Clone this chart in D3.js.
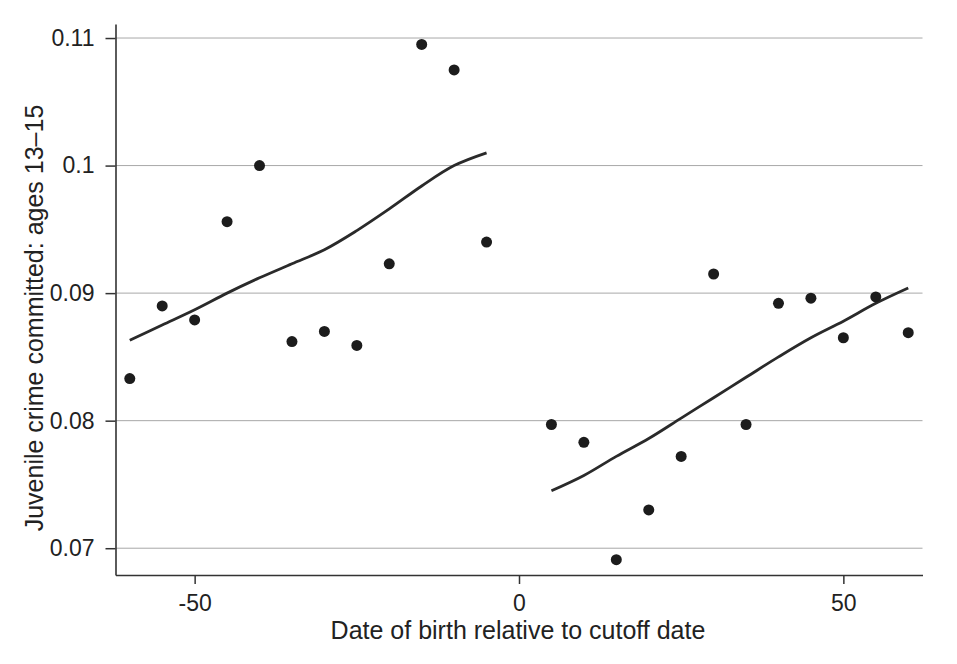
<!DOCTYPE html>
<html>
<head>
<meta charset="utf-8">
<script src="https://cdn.jsdelivr.net/npm/d3@7"></script>
<style>
  html, body { margin: 0; padding: 0; background: #fff; }
  svg { display: block; font-family: "Liberation Sans", Arial, Helvetica, sans-serif; }
</style>
</head>
<body>
<svg id="chart" width="957" height="664"></svg>
<script>
// ---- data ----
const birthDates = [-60, -55, -50, -45, -40, -35, -30, -25, -20, -15, -10, -5,
                    5, 10, 15, 20, 25, 30, 35, 40, 45, 50, 55, 60];
const crimeRates = [0.0833, 0.0890, 0.0879, 0.0956, 0.1000, 0.0862, 0.0870, 0.0859, 0.0923, 0.1095, 0.1075, 0.0940,
                    0.0797, 0.0783, 0.0691, 0.0730, 0.0772, 0.0915, 0.0797, 0.0892, 0.0896, 0.0865, 0.0897, 0.0869];
const leftFitX = [-60, -55, -50, -45, -40, -35, -30, -25, -20, -15, -10, -5];
const leftFitY = [0.0863, 0.0875, 0.0887, 0.0900, 0.0912, 0.0923, 0.0934, 0.0949, 0.0966, 0.0984, 0.1000, 0.1010];
const rightFitX = [5, 10, 15, 20, 25, 30, 35, 40, 45, 50, 55, 60];
const rightFitY = [0.0745, 0.0757, 0.0772, 0.0786, 0.0802, 0.0818, 0.0834, 0.0850, 0.0865, 0.0878, 0.0892, 0.0904];
const xTicks = [-50, 0, 50];
const yTicks = [0.07, 0.08, 0.09, 0.1, 0.11];
const xTitle = "Date of birth relative to cutoff date";
const yTitle = "Juvenile crime committed: ages 13\u201315";

// ---- layout ----
const svg = d3.select("#chart");
const plot = { left: 115.5, right: 922.5, top: 24, bottom: 575 };

const x = d3.scaleLinear().domain([-62.2, 62.2]).range([plot.left, plot.right]);
const y = d3.scaleLinear().domain([0.0679, 0.1111]).range([plot.bottom, plot.top]);

// gridlines
svg.append("g")
  .selectAll("line")
  .data(yTicks)
  .join("line")
  .attr("x1", plot.left)
  .attr("x2", plot.right)
  .attr("y1", d => y(d))
  .attr("y2", d => y(d))
  .attr("stroke", "#a8a8a8")
  .attr("stroke-width", 1);

// axes
const yAxis = d3.axisLeft(y).tickValues(yTicks).tickFormat(d => String(+d.toFixed(2))).tickSize(10).tickSizeOuter(0).tickPadding(11);
const xAxis = d3.axisBottom(x).tickValues(xTicks).tickFormat(d3.format("d")).tickSize(9).tickSizeOuter(0).tickPadding(11);

const gy = svg.append("g").attr("transform", `translate(${plot.left},0)`).call(yAxis);
const gx = svg.append("g").attr("transform", `translate(0,${plot.bottom})`).call(xAxis);

[gx, gy].forEach(g => {
  g.select(".domain").attr("stroke", "#333").attr("stroke-width", 1.6);
  g.selectAll(".tick line").attr("stroke", "#333").attr("stroke-width", 1.5);
  g.selectAll(".tick text").attr("fill", "#222").attr("font-size", 23)
    .attr("font-family", "'Liberation Sans', Arial, sans-serif");
});
gx.selectAll(".tick text").text(d => d < 0 ? "-" + Math.abs(d) : String(d));

// fit lines
const line = d3.line().x(d => x(d[0])).y(d => y(d[1])).curve(d3.curveCatmullRom);
svg.append("path")
  .datum(d3.zip(leftFitX, leftFitY))
  .attr("d", line)
  .attr("fill", "none")
  .attr("stroke", "#2a2a2a")
  .attr("stroke-width", 2.8);
svg.append("path")
  .datum(d3.zip(rightFitX, rightFitY))
  .attr("d", line)
  .attr("fill", "none")
  .attr("stroke", "#2a2a2a")
  .attr("stroke-width", 2.8);

// points
svg.append("g")
  .selectAll("circle")
  .data(d3.zip(birthDates, crimeRates))
  .join("circle")
  .attr("cx", d => x(d[0]))
  .attr("cy", d => y(d[1]))
  .attr("r", 5.5)
  .attr("fill", "#1c1c1c");

// titles
svg.append("text")
  .attr("x", 518)
  .attr("y", 639)
  .attr("text-anchor", "middle")
  .attr("font-size", 25)
  .attr("fill", "#222")
  .text(xTitle);

svg.append("text")
  .attr("transform", "translate(43,318) rotate(-90)")
  .attr("text-anchor", "middle")
  .attr("font-size", 25)
  .attr("fill", "#222")
  .text(yTitle);
</script>
</body>
</html>
